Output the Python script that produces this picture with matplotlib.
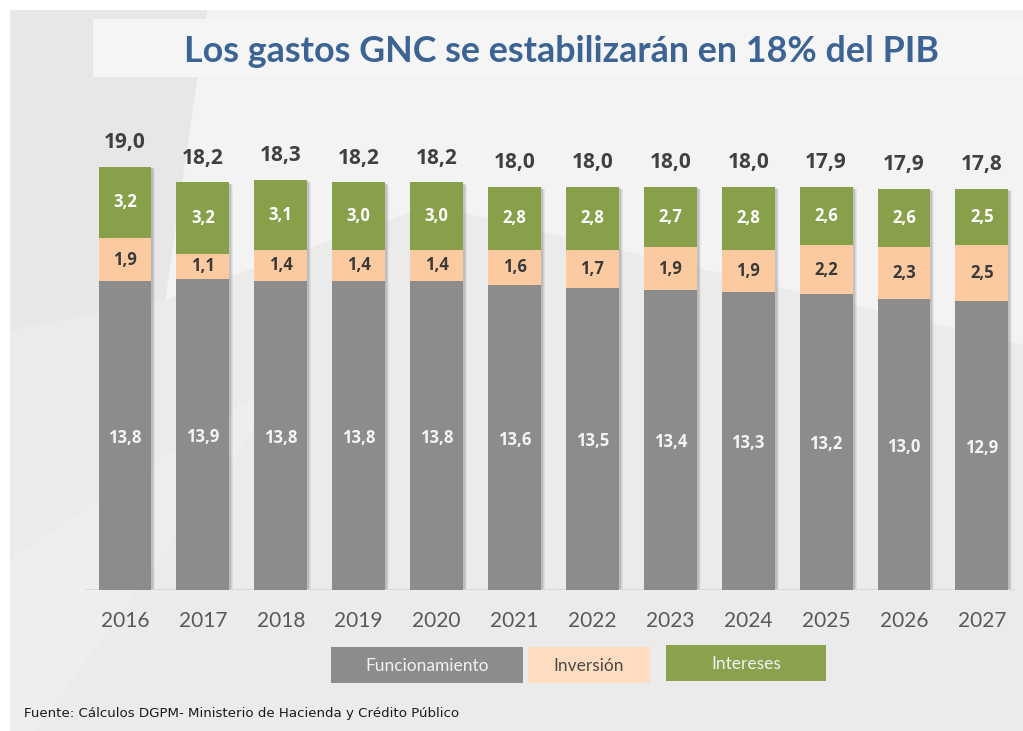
import matplotlib
matplotlib.use("Agg")
import matplotlib.pyplot as plt
import numpy as np
from matplotlib.patches import Polygon, Rectangle

# ---- data ----
years = ["2016", "2017", "2018", "2019", "2020", "2021", "2022", "2023", "2024", "2025", "2026", "2027"]
funcionamiento = [13.8, 13.9, 13.8, 13.8, 13.8, 13.6, 13.5, 13.4, 13.3, 13.2, 13.0, 12.9]
inversion = [1.9, 1.1, 1.4, 1.4, 1.4, 1.6, 1.7, 1.9, 1.9, 2.2, 2.3, 2.5]
intereses = [3.2, 3.2, 3.1, 3.0, 3.0, 2.8, 2.8, 2.7, 2.8, 2.6, 2.6, 2.5]
totales = [19.0, 18.2, 18.3, 18.2, 18.2, 18.0, 18.0, 18.0, 18.0, 17.9, 17.9, 17.8]
series_names = ["Funcionamiento", "Inversión", "Intereses"]
title = "Los gastos GNC se estabilizarán en 18% del PIB"
source = "Fuente: Cálculos DGPM- Ministerio de Hacienda y Crédito Público"

W, H = 1023, 731
fig = plt.figure(figsize=(W / 100, H / 100), dpi=100)
fig.patch.set_facecolor("white")


def px(x, y):
    return (x / W, 1 - y / H)


def poly(points, color, z=0):
    p = Polygon([px(*pt) for pt in points], closed=True, transform=fig.transFigure,
                facecolor=color, edgecolor="none", zorder=z)
    fig.add_artist(p)


def rect_px(x0, y0, x1, y1, color, z=0):
    r = Rectangle(px(x0, y1), (x1 - x0) / W, (y1 - y0) / H, transform=fig.transFigure,
                  facecolor=color, edgecolor="none", zorder=z)
    fig.add_artist(r)


# background panel with watermark-like shapes
rect_px(10, 10, W, H, "#ebebeb", z=0)
poly([(207, 10), (W, 10), (W, 345), (430, 205), (165, 300)], "#f3f3f3", z=0)
poly([(10, 10), (207, 10), (165, 300), (10, 330)], "#e7e7e7", z=0)
poly([(10, 731), (35, 731), (300, 365), (10, 560)], "#eeeeee", z=0)
rect_px(93, 19, W, 77, "#f5f5f5", z=0)

# title
fig.text(561 / W, 1 - 52 / H, title, ha="center", va="center", color="#3b6494",
         fontsize=25.8, fontweight="bold", family="Lato")

# ---- axes ----
px_per_unit = 22.4
x_per_bar = 77.9
ax_left, ax_right, ax_bottom, ax_top = 85, 1015, 590, 120
ax = fig.add_axes([ax_left / W, 1 - ax_bottom / H, (ax_right - ax_left) / W, (ax_bottom - ax_top) / H])
ax.set_facecolor("none")
ax.set_xlim((ax_left - 125) / x_per_bar, (ax_right - 125) / x_per_bar)
ax.set_ylim(0, (ax_bottom - ax_top) / px_per_unit)
for s in ax.spines.values():
    s.set_visible(False)
ax.set_yticks([])
ax.tick_params(axis="x", length=0, pad=15)

x = np.arange(len(years))
f = np.array(funcionamiento)
inv = np.array(inversion)
it = np.array(intereses)
width = 0.68

c_gray = "#8c8c8c"
c_peach = "#fccaa0"
c_green = "#88a04a"

# soft shadows
tops = f + inv + it
for k, a in [(4, 0.05), (3, 0.07), (2, 0.09)]:
    ax.bar(x + k / x_per_bar, tops, width, bottom=-k / px_per_unit * 0.6, color="black",
           alpha=a, zorder=1, linewidth=0)

ax.bar(x, f, width, color=c_gray, zorder=2, linewidth=0)
ax.bar(x, inv, width, bottom=f, color=c_peach, zorder=2, linewidth=0)
ax.bar(x, it, width, bottom=f + inv, color=c_green, zorder=2, linewidth=0)
ax.axhline(0, color="#d6d6d6", lw=1.2, zorder=1.5)

lab_font = dict(family="Open Sans", fontweight="bold", fontsize=12, ha="center", va="center", zorder=5)
for i in range(len(years)):
    ax.text(x[i], f[i] / 2 - 0.1, f"{f[i]:.1f}".replace(".", ","), color="#f4f4f4", **lab_font)
    ax.text(x[i], f[i] + inv[i] / 2, f"{inv[i]:.1f}".replace(".", ","), color="#3a3a3a", **lab_font)
    ax.text(x[i], f[i] + inv[i] + it[i] / 2, f"{it[i]:.1f}".replace(".", ","), color="white", **lab_font)
    ax.annotate(f"{totales[i]:.1f}".replace(".", ","), (x[i], tops[i]), xytext=(0, 17.5),
                textcoords="offset points", ha="center", va="center", color="#404040",
                family="Open Sans", fontweight="bold", fontsize=15, zorder=5)

ax.set_xticks(x)
ax.set_xticklabels(years, family="Lato", fontsize=15, color="#595959")

# ---- legend boxes ----
legend_boxes = [(331, 647, 523, 683, "#8c8c8c", "#f2f2f2"),
                (528, 647, 650, 683, "#fddcbf", "#4a4a4a"),
                (666, 645, 826, 681, "#8aa24c", "#f2f2f2")]
for (x0, y0, x1, y1, fc, tc), name in zip(legend_boxes, series_names):
    rect_px(x0, y0, x1, y1, fc, z=3)
    fig.text((x0 + x1) / 2 / W, 1 - ((y0 + y1) / 2 + 1) / H, name, ha="center", va="center",
             color=tc, fontsize=12.5, family="Lato", zorder=4)

# source
fig.text(24 / W, 1 - 714 / H, source, ha="left", va="center", color="#1a1a1a",
         fontsize=9.6, family="DejaVu Sans")

fig.savefig("out.png", dpi=100, facecolor=fig.get_facecolor())
